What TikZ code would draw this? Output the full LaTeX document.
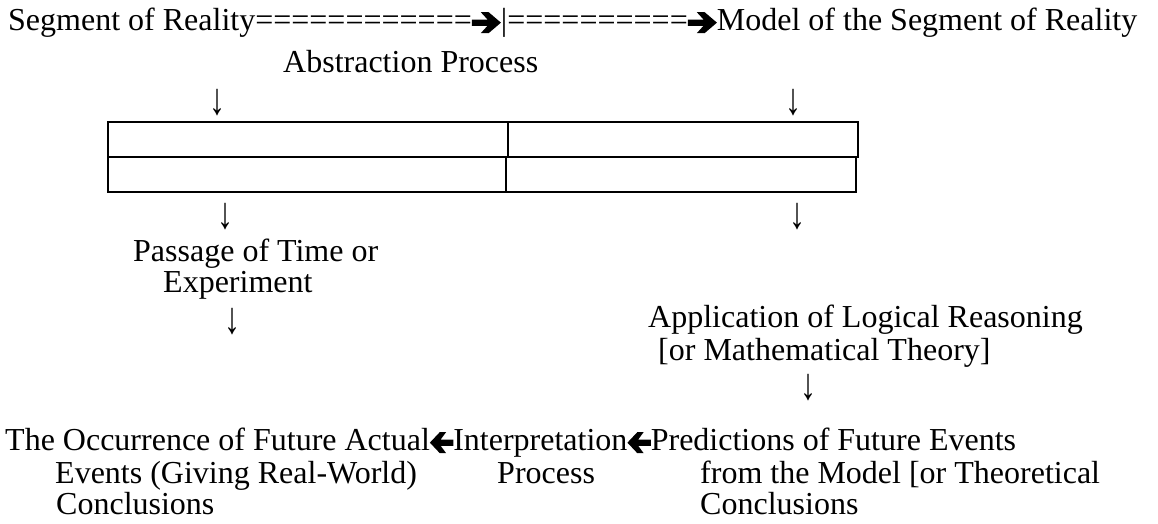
\documentclass[tikz,border=0pt]{standalone}
\usepackage{fontspec}
\usepackage{graphicx}
\setmainfont{Liberation Serif}
\newcommand{\arrowshape}{(0,4) -- (14,4) -- (8,-3) -- (15,-3) -- (26,7) -- (15,17) -- (8,17) -- (14,10) -- (0,10) -- cycle}
\newcommand{\rarrow}{\tikz[x=1.12pt,y=1.05pt,baseline=0pt]\fill \arrowshape;}
\newcommand{\larrow}{\tikz[x=-0.9pt,y=1.05pt,baseline=0pt]\fill \arrowshape;}
\newcommand{\dnarrow}{\raisebox{0pt}[\height][0pt]{\scalebox{1}[1.4]{↓}}}
\begin{document}
\begin{tikzpicture}[x=1pt,y=-1pt,
  txt/.style={inner sep=0pt, anchor=base west, font=\fontsize{32}{34}\selectfont},
  darr/.style={inner sep=0pt, anchor=base, font=\fontsize{32}{34}\selectfont},
  cell/.style={line width=1.4pt}]
\useasboundingbox (0,0) rectangle (1158,523);
% top line
\node[txt] (top) at (8,30) {Segment of Reality============\rarrow|==========\rarrow Model of the Segment of Reality};
\node[txt] (abs) at (283,72) {Abstraction Process};
\node[darr] (d1) at (217,114) {\dnarrow};
\node[darr] (d2) at (793,114) {\dnarrow};
% table
\draw[cell] (108,122) rectangle (508,157);
\draw[cell] (508,122) rectangle (858,157);
\draw[cell] (108,157) rectangle (506,192);
\draw[cell] (506,157) rectangle (856,192);
\node[darr] (d3) at (225,228) {\dnarrow};
\node[darr] (d4) at (797,228) {\dnarrow};
% left column
\node[txt] (pass) at (133,261) {Passage of Time or};
\node[txt] (exp) at (163,292) {Experiment};
\node[darr] (d5) at (232,333) {\dnarrow};
% right column
\node[txt] (app) at (648,327) {Application of Logical Reasoning};
\node[txt] (math) at (658,360) {[or Mathematical Theory]};
\node[darr] (d6) at (808,399) {\dnarrow};
% bottom
\node[txt] (occ) at (5,450) {The Occurrence of Future Actual\larrow Interpretation\larrow Predictions of Future Events};
\node[txt] (ev) at (55,483) {Events (Giving Real-World)};
\node[txt] (proc) at (497,483) {Process};
\node[txt] (from) at (700,483) {from the Model [or Theoretical};
\node[txt] (conc1) at (56,514) {Conclusions};
\node[txt] (conc2) at (700,514) {Conclusions};
\end{tikzpicture}
\end{document}
